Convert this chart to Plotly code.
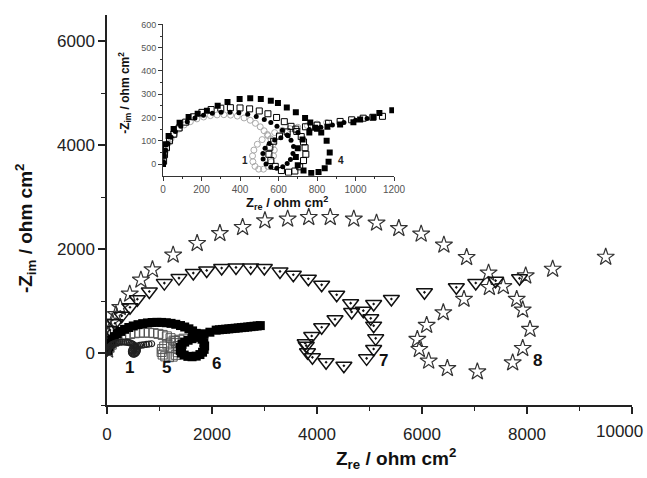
import plotly.graph_objects as go

# ---------------- main plot data (ohm cm^2) ----------------
# curve 1 (same data as inset curve 1)
s1_re = [2, 5, 10, 18, 28, 42, 60, 82, 110, 142, 176, 211, 246, 281, 316, 351, 386, 421, 453, 480, 505, 525, 542,
         560, 572, 578, 574, 562, 545, 522, 497, 478, 467, 465, 472, 490, 515, 545, 580, 620, 660, 700, 750, 800, 850]
s1_im = [10, 30, 50, 70, 90, 110, 130, 150, 168, 182, 194, 202, 208, 211, 212, 210, 206, 198, 188, 175, 160, 143, 127,
         108, 85, 60, 35, 10, -10, -22, -22, -10, 10, 35, 60, 85, 105, 122, 135, 145, 152, 158, 165, 172, 178]

# curve 5 (open squares)
s5_re = [20, 50, 90, 140, 200, 270, 350, 440, 530, 620, 710, 800, 890, 980, 1060, 1140, 1210, 1270, 1320, 1350,
         1360, 1345, 1310, 1250, 1180, 1110, 1060, 1040, 1050, 1090, 1150, 1220, 1300, 1380, 1460]
s5_im = [40, 100, 160, 215, 265, 305, 340, 365, 380, 390, 392, 390, 382, 368, 348, 320, 285, 240, 190, 135,
         75, 15, -35, -70, -80, -65, -30, 20, 75, 125, 165, 200, 230, 255, 275]

# curve 6 (filled squares)
s6_re = [15, 35, 60, 95, 140, 195, 260, 335, 415, 500, 590, 680, 770, 860, 950, 1040, 1130, 1220, 1310, 1400,
         1480, 1560, 1630, 1700, 1760, 1810, 1845, 1860, 1850, 1820, 1770, 1700, 1620, 1540, 1470, 1420, 1395,
         1400, 1430, 1480, 1545, 1620, 1690, 1750, 1850, 1960, 2080, 2140, 2200, 2260, 2320, 2380, 2440, 2500,
         2560, 2620, 2680, 2740, 2800, 2860, 2920]
s6_im = [50, 120, 190, 255, 315, 370, 415, 455, 490, 520, 545, 565, 578, 587, 590, 588, 582, 570, 552, 528,
         500, 465, 425, 378, 325, 265, 200, 135, 70, 15, -30, -60, -72, -65, -40, 0, 50,
         110, 165, 210, 245, 275, 300, 330, 370, 400, 440, 447, 453, 458, 464, 470, 476, 482,
         488, 494, 500, 507, 514, 520, 527]

# curve 7 (triangles)
s7_re = [10, 30, 57, 152, 279, 438, 578, 806, 1092, 1371, 1644, 1899, 2184, 2457, 2737, 2997, 3295, 3549, 3835,
         4089, 4375, 4641, 4660, 4343, 4089, 3899, 3775, 3795, 3819, 3913, 4173, 4512, 4945, 5079, 5118, 5079,
         5024, 4882, 5079, 5417, 6047, 6654, 7024, 7402, 7858]
s7_im = [80, 250, 443, 572, 714, 881, 1035, 1183, 1344, 1440, 1537, 1588, 1633, 1646, 1646, 1633, 1569, 1504, 1427,
         1311, 1119, 958, 790, 650, 496, 328, 187, 141, 13, -83, -179, -244, -103, 77, 282, 526,
         667, 814, 942, 1038, 1167, 1263, 1346, 1391, 1436]

# curve 8 (stars)
s8_re = [10, 25, 45, 75, 100, 170, 252, 433, 646, 866, 1260, 1717, 2150, 2583, 3008, 3441, 3843, 4252, 4701,
         5134, 5559, 5984, 6417, 6850, 7268, 7549, 7804, 7918, 8057, 7918, 7727, 7054, 6483, 6127, 5949, 5911,
         6089, 6406, 6800, 7283, 7975, 8489, 9499]
s8_im = [60, 170, 300, 430, 600, 740, 878, 1135, 1404, 1603, 1885, 2109, 2301, 2417, 2545, 2577, 2609, 2609, 2577,
         2500, 2397, 2288, 2077, 1840, 1540, 1279, 1035, 829, 457, 90, -187, -360, -296, -154, 71, 264,
         534, 777, 1035, 1263, 1485, 1614, 1845]

# ---------------- inset data ----------------
i2_re = [2, 6, 14, 26, 42, 64, 92, 126, 166, 210, 256, 302, 348, 394, 440, 484, 526, 560, 592, 620, 645, 665,
         678, 675, 662, 645, 622, 591, 560, 535, 520, 519, 530, 552, 580, 612, 650, 700, 760, 820, 880, 940, 1000, 1060]
i2_im = [10, 35, 60, 88, 115, 140, 162, 182, 198, 210, 218, 222, 222, 220, 214, 204, 191, 178, 162, 145, 125, 102,
         75, 45, 20, 2, -12, -18, -14, 0, 22, 45, 68, 88, 103, 113, 122, 135, 148, 158, 168, 178, 188, 196]

i3_re = [3, 8, 18, 34, 56, 84, 118, 158, 202, 250, 300, 350, 400, 450, 500, 545, 590, 630, 665, 695, 718, 730,
         738, 742, 730, 710, 685, 652, 615, 583, 560, 550, 555, 575, 605, 645, 690, 740, 800, 860, 920, 980, 1040, 1090, 1140]
i3_im = [12, 40, 70, 100, 128, 155, 180, 203, 222, 234, 240, 242, 241, 237, 228, 216, 200, 182, 162, 140, 118, 95,
         70, 42, 15, -12, -30, -35, -28, -10, 15, 42, 72, 98, 120, 138, 150, 160, 167, 175, 183, 190, 197, 201, 205]

i4_re = [0, 3, 12, 29, 55, 86, 133, 180, 228, 284, 335, 398, 453, 508, 560, 597, 643, 690, 738, 765, 790, 822,
         850, 866, 860, 840, 808, 770, 730, 700, 690, 700, 725, 760, 800, 854, 920, 989, 1024, 1093, 1124, 1191]
i4_im = [0, 42, 85, 120, 151, 177, 202, 216, 229, 250, 267, 279, 283, 279, 272, 262, 243, 222, 198, 178, 156, 136,
         100, 50, 10, -18, -34, -38, -28, -5, 30, 68, 105, 135, 152, 160, 170, 180, 191, 201, 219, 231]

# ---------------- tick labels ----------------
x_tickvals = [0, 2000, 4000, 6000, 8000, 10000]
x_ticktext = ["0", "2000", "4000", "6000", "8000", ""]   # last one drawn right-aligned at the edge below
x_last_label = "10000"

# ---------------- labels ----------------
main_labels = ["1", "5", "6", "7", "8"]
main_lab_x = [425, 1137, 2089, 5264, 8203]
main_lab_y = [-276, -276, -199, -135, -148]
inset_labels = ["1", "4"]
inset_lab_x = [427, 925]
inset_lab_y = [14, 14]

fig = go.Figure()

# main traces
fig.add_trace(go.Scatter(x=s8_re, y=s8_im, mode="markers", xaxis="x", yaxis="y",
                         marker=dict(symbol="star-open", size=13, color="#333333", line=dict(width=1.2))))
fig.add_trace(go.Scatter(x=s7_re, y=s7_im, mode="markers", xaxis="x", yaxis="y",
                         marker=dict(symbol="triangle-down-open-dot", size=14, color="#111111", line=dict(width=1.5))))
fig.add_trace(go.Scatter(x=s5_re, y=s5_im, mode="markers", xaxis="x", yaxis="y",
                         marker=dict(symbol="square-open", size=9, color="#555555", line=dict(width=1))))
fig.add_trace(go.Scatter(x=s6_re, y=s6_im, mode="markers", xaxis="x", yaxis="y",
                         marker=dict(symbol="square", size=9, color="#000000")))
fig.add_trace(go.Scatter(x=s1_re, y=s1_im, mode="markers", xaxis="x", yaxis="y",
                         marker=dict(symbol="circle-open", size=6, color="#222222", line=dict(width=1.2))))

# inset traces
fig.add_trace(go.Scatter(x=s1_re, y=s1_im, mode="markers", xaxis="x2", yaxis="y2",
                         marker=dict(symbol="circle-open", size=6, color="#aaaaaa", line=dict(width=1))))
fig.add_trace(go.Scatter(x=i2_re, y=i2_im, mode="markers", xaxis="x2", yaxis="y2",
                         marker=dict(symbol="circle", size=5, color="#000000")))
fig.add_trace(go.Scatter(x=i3_re, y=i3_im, mode="markers", xaxis="x2", yaxis="y2",
                         marker=dict(symbol="square-open", size=6, color="#000000", line=dict(width=1))))
fig.add_trace(go.Scatter(x=i4_re, y=i4_im, mode="markers", xaxis="x2", yaxis="y2",
                         marker=dict(symbol="square", size=6, color="#000000")))

tickfont_main = dict(family="Arial, Liberation Sans", size=17, color="#222222")
tickfont_inset = dict(family="Arial, Liberation Sans", size=10, color="#555555")

fig.update_layout(
    width=647, height=478,
    margin=dict(l=107, r=15, t=15, b=73, autoexpand=False),
    paper_bgcolor="white", plot_bgcolor="white",
    showlegend=False,
    xaxis=dict(range=[0, 10000], tickvals=x_tickvals, ticktext=x_ticktext,
               showline=True, linecolor="#222", linewidth=1.5, mirror=False, showgrid=False, zeroline=False,
               ticks="outside", ticklen=7, tickwidth=1.5, tickcolor="#222", tickfont=tickfont_main,
               ticklabelstandoff=6,
               minor=dict(tickvals=[1000, 3000, 5000, 7000, 9000], ticks="outside", ticklen=4, tickwidth=1.2, tickcolor="#222")),
    yaxis=dict(range=[-1000, 6500], tickvals=[0, 2000, 4000, 6000], tickformat="d",
               ticklabeloverflow="allow",
               showline=True, linecolor="#222", linewidth=1.5, showgrid=False, zeroline=False,
               ticks="outside", ticklen=7, tickwidth=1.5, tickcolor="#222", tickfont=tickfont_main,
               minor=dict(tickvals=[-1000, 1000, 3000, 5000], ticks="outside", ticklen=4, tickwidth=1.2, tickcolor="#222")),
    xaxis2=dict(domain=[0.1067, 0.5467], anchor="y2", range=[0, 1200],
                tickvals=[0, 200, 400, 600, 800, 1000, 1200], tickformat="d",
                showline=True, linecolor="#333", linewidth=1, showgrid=False, zeroline=False,
                ticks="outside", ticklen=4, tickwidth=1, tickcolor="#333", tickfont=tickfont_inset,
                minor=dict(tickvals=[100, 300, 500, 700, 900, 1100], ticks="outside", ticklen=2, tickcolor="#333")),
    yaxis2=dict(domain=[0.588, 0.976], anchor="x2", range=[-50, 600],
                tickvals=[0, 100, 200, 300, 400, 500, 600], tickformat="d",
                showline=True, linecolor="#333", linewidth=1, showgrid=False, zeroline=False,
                ticks="outside", ticklen=4, tickwidth=1, tickcolor="#333", tickfont=dict(tickfont_inset, size=9),
                minor=dict(tickvals=[50, 150, 250, 350, 450, 550], ticks="outside", ticklen=2, tickcolor="#333")),
)

ann = []
for t, x, y in zip(main_labels, main_lab_x, main_lab_y):
    ann.append(dict(x=x, y=y, xref="x", yref="y", text="<b>%s</b>" % t, showarrow=False,
                    font=dict(family="Arial, Liberation Sans", size=17, color="#111")))
for t, x, y in zip(inset_labels, inset_lab_x, inset_lab_y):
    ann.append(dict(x=x, y=y, xref="x2", yref="y2", text="<b>%s</b>" % t, showarrow=False,
                    font=dict(family="Arial, Liberation Sans", size=10, color="#222")))

# last x tick label, right-aligned so it stays inside the picture
ann.append(dict(x=1.0255, y=-0.068, xref="paper", yref="paper", text=x_last_label, showarrow=False,
                font=tickfont_main, xanchor="right", yanchor="middle"))

title_font = dict(family="Arial, Liberation Sans", size=19, color="#111")
ann.append(dict(x=0.550, y=-0.136, xref="paper", yref="paper", text="<b>Z<sub>re</sub> / ohm cm<sup>2</sup></b>",
                showarrow=False, font=title_font, xanchor="center", yanchor="middle"))
ann.append(dict(x=-0.154, y=0.454, xref="paper", yref="paper", text="<b>-Z<sub>im</sub> / ohm cm<sup>2</sup></b>",
                showarrow=False, font=title_font, textangle=-90, xanchor="center", yanchor="middle"))
inset_title_font = dict(family="Arial, Liberation Sans", size=13, color="#111")
ann.append(dict(x=0.343, y=0.518, xref="paper", yref="paper", text="<b>Z<sub>re</sub> / ohm cm<sup>2</sup></b>",
                showarrow=False, font=inset_title_font, xanchor="center", yanchor="middle"))
ann.append(dict(x=0.034, y=0.80, xref="paper", yref="paper", text="<b>-Z<sub>im</sub> / ohm cm<sup>2</sup></b>",
                showarrow=False, font=dict(inset_title_font, size=12), textangle=-90, xanchor="center", yanchor="middle"))
fig.update_layout(annotations=ann)

fig.write_html("out.html", config={"displayModeBar": False},
               post_script="document.body.style.margin='0';document.body.style.overflow='hidden';")
